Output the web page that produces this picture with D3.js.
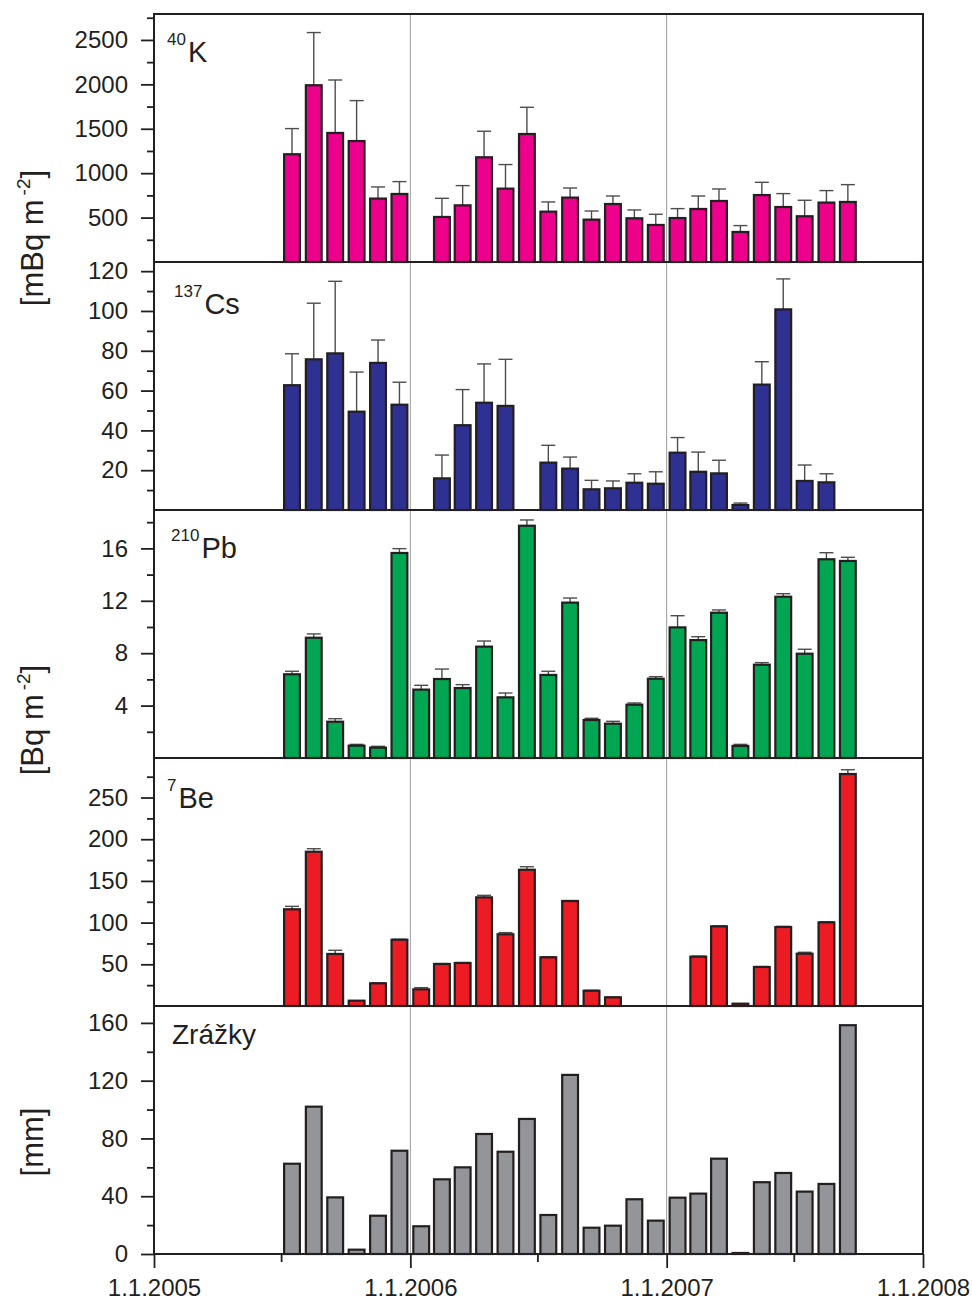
<!DOCTYPE html>
<html>
<head>
<meta charset="utf-8">
<script src="https://cdn.jsdelivr.net/npm/d3@7"></script>
<style>
  body { margin: 0; background: #fff; }
  svg { display: block; }
  text { font-family: "Liberation Sans", Arial, Helvetica, sans-serif; }
</style>
</head>
<body>
<svg id="chart" width="972" height="1301"></svg>
<script>
// Monthly sampling periods
const months = [
  "2005-07","2005-08","2005-09","2005-10","2005-11","2005-12",
  "2006-01","2006-02","2006-03","2006-04","2006-05","2006-06",
  "2006-07","2006-08","2006-09","2006-10","2006-11","2006-12",
  "2007-01","2007-02","2007-03","2007-04","2007-05","2007-06",
  "2007-07","2007-08","2007-09"
];

// 40K deposition [mBq m-2] and its uncertainty
const k40 = [1213,1990,1453,1362,714,766, null,507,638,1179,826,1441,
             567,725,477,653,492,417, 495,597,687,338,754,619, 515,669,676];
const k40Err = [289,593,596,455,131,139, null,210,222,293,271,301,
                109,108,97,90,94,120, 106,146,135,72,143,151, 180,135,195];

// 137Cs deposition [mBq m-2]
const cs137 = [62.7,75.7,78.7,49.4,73.9,52.9, null,15.9,42.6,53.9,52.3,null,
               23.8,20.8,10.4,10.9,13.7,13.2, 28.8,19.2,18.4,2.5,63.0,100.8, 14.6,13.9,null];
const cs137Err = [15.8,28.2,36.2,19.9,11.5,11.3, null,11.7,17.9,19.5,23.4,null,
                  8.7,5.8,4.5,3.7,4.5,6.0, 7.6,9.9,6.6,1.0,11.5,15.3, 8.0,4.3,null];

// 210Pb deposition [Bq m-2]
const pb210 = [6.39,9.18,2.77,0.94,0.79,15.65, 5.22,6.03,5.34,8.5,4.63,17.73,
               6.34,11.86,2.9,2.62,4.07,6.05, 9.97,9.0,11.09,0.92,7.12,12.31, 7.96,15.17,15.04];
const pb210Err = [0.23,0.29,0.23,0.1,0.1,0.33, 0.33,0.76,0.26,0.43,0.33,0.44,
                  0.28,0.35,0.13,0.18,0.13,0.16, 0.89,0.26,0.21,0.12,0.16,0.23, 0.34,0.5,0.28];

// 7Be deposition [Bq m-2]
const be7 = [116,185,62.4,6.4,27.2,79.5, 20,50.4,51.6,130.3,86,163.4,
             58.4,125.9,18.3,10.4,null,null, null,59.2,95.5,2.8,46.8,94.7, 62.7,100.3,278.2];
const be7Err = [3.5,3.6,4.4,0,0.5,0.5, 2,0.5,0.5,2.4,2,3.6,
                0.5,0.5,0.5,0.3,null,null, null,0.5,0.5,0,0.5,0.8, 1.7,0.8,5.1];

// Monthly precipitation [mm]
const precip = [62.5,102,39.2,3.0,26.5,71.5, 19.2,51.7,60,83.1,70.8,93.5,
                27,124,18.2,19.6,37.9,23.1, 39,41.8,66,0.7,49.7,56.1, 43.2,48.5,158.4];

// Axis ticks per panel
const kTicks = [500,1000,1500,2000,2500];
const kMinor = [250,750,1250,1750,2250,2750];
const csTicks = [20,40,60,80,100,120];
const csMinor = [10,30,50,70,90,110];
const pbTicks = [4,8,12,16];
const pbMinor = [2,6,10,14,18];
const beTicks = [50,100,150,200,250];
const beMinor = [25,75,125,175,225,275];
const prTicks = [0,40,80,120,160];
const prMinor = [20,60,100,140];
const yearTicks = ["2005-01","2006-01","2007-01","2008-01"];
const halfYearTicks = ["2005-07","2006-07","2007-07"];

const parseMonth = d3.timeParse("%Y-%m");

const panels = [
  { sup: "40", name: "K", values: k40, errors: k40Err, color: "#ec008c", max: 2792, major: kTicks, minor: kMinor },
  { sup: "137", name: "Cs", values: cs137, errors: cs137Err, color: "#2e3192", max: 124.6, major: csTicks, minor: csMinor },
  { sup: "210", name: "Pb", values: pb210, errors: pb210Err, color: "#00a651", max: 18.93, major: pbTicks, minor: pbMinor },
  { sup: "7", name: "Be", values: be7, errors: be7Err, color: "#ed1c24", max: 297.4, major: beTicks, minor: beMinor },
  { sup: "", name: "Zrážky", values: precip, errors: null, color: "#939598", max: 171.7, major: prTicks, minor: prMinor }
];

// Layout
const left = 154, right = 923, top0 = 14, panelH = 248;
const bottomAll = top0 + panelH * panels.length;
const ink = "#231f20";

const svg = d3.select("#chart");
const x = d3.scaleTime()
  .domain([parseMonth("2005-01"), parseMonth("2008-01")])
  .range([left, right]);

// Year gridlines through all panels
const gGrid = svg.append("g");
["2006-01","2007-01"].forEach(m => {
  const xx = x(parseMonth(m));
  gGrid.append("line")
    .attr("x1", xx).attr("x2", xx)
    .attr("y1", top0).attr("y2", bottomAll)
    .attr("stroke", "#9a9a9a").attr("stroke-width", 1);
});

const labelX = [167, 174, 171, 167, 172];
const labelY = [62, 314, 558, 808, 1044];

panels.forEach((p, i) => {
  const y0 = top0 + i * panelH, y1 = y0 + panelH;
  const y = d3.scaleLinear().domain([0, p.max]).range([y1, y0]);
  const g = svg.append("g");

  const data = months.map((m, j) => {
    const d0 = parseMonth(m), d1 = d3.timeMonth.offset(d0, 1);
    return { c: (x(d0) + x(d1)) / 2, v: p.values[j], e: p.errors ? p.errors[j] : null };
  }).filter(d => d.v != null);

  // error bars (upper only)
  const gErr = g.append("g").attr("stroke", "#4d4d4d").attr("stroke-width", 1.4);
  data.filter(d => d.e != null && d.e > 0).forEach(d => {
    gErr.append("line").attr("x1", d.c).attr("x2", d.c)
      .attr("y1", y(d.v)).attr("y2", y(d.v + d.e));
    gErr.append("line").attr("x1", d.c - 7).attr("x2", d.c + 7)
      .attr("y1", y(d.v + d.e)).attr("y2", y(d.v + d.e));
  });

  // bars
  g.append("g").selectAll("rect").data(data).join("rect")
    .attr("x", d => d.c - 7.9)
    .attr("width", 15.8)
    .attr("y", d => y(d.v))
    .attr("height", d => y(0) - y(d.v))
    .attr("fill", p.color)
    .attr("stroke", ink)
    .attr("stroke-width", 2.2);

  // left axis: minor and major ticks
  const minorAxis = g.append("g").attr("transform", `translate(${left},0)`)
    .call(d3.axisLeft(y).tickValues(p.minor).tickSize(7).tickFormat(""));
  const majorAxis = g.append("g").attr("transform", `translate(${left},0)`)
    .call(d3.axisLeft(y).tickValues(p.major).tickSize(13).tickPadding(13)
      .tickFormat(d3.format("d")));
  [minorAxis, majorAxis].forEach(a => {
    a.select(".domain").remove();
    a.attr("color", ink);
    a.selectAll("line").attr("stroke-width", 1.8);
  });
  majorAxis.selectAll("text").attr("font-size", 24).attr("fill", ink)
    .style("font-family", '"Liberation Sans", Arial, sans-serif');

  // panel label
  const t = svg.append("text").attr("x", labelX[i]).attr("y", labelY[i]).attr("fill", ink);
  if (p.sup) {
    t.append("tspan").attr("font-size", 17).attr("dy", -17).text(p.sup);
    t.append("tspan").attr("font-size", 29).attr("dy", 17).attr("dx", 2).text(p.name);
  } else {
    t.append("tspan").attr("font-size", 28).text(p.name);
  }
});

// frame and panel separators
svg.append("rect")
  .attr("x", left).attr("y", top0)
  .attr("width", right - left).attr("height", bottomAll - top0)
  .attr("fill", "none").attr("stroke", ink).attr("stroke-width", 2);
for (let i = 1; i < panels.length; i++) {
  svg.append("line")
    .attr("x1", left).attr("x2", right)
    .attr("y1", top0 + i * panelH).attr("y2", top0 + i * panelH)
    .attr("stroke", ink).attr("stroke-width", 2);
}

// bottom time axis
const xMinor = svg.append("g").attr("transform", `translate(0,${bottomAll})`)
  .call(d3.axisBottom(x).tickValues(halfYearTicks.map(parseMonth)).tickSize(8).tickFormat(""));
const xMajor = svg.append("g").attr("transform", `translate(0,${bottomAll})`)
  .call(d3.axisBottom(x).tickValues(yearTicks.map(parseMonth)).tickSize(14).tickPadding(11)
    .tickFormat(d => `1.1.${d.getFullYear()}`));
[xMinor, xMajor].forEach(a => {
  a.select(".domain").remove();
  a.attr("color", ink);
  a.selectAll("line").attr("stroke-width", 1.8);
});
xMajor.selectAll("text").attr("font-size", 24).attr("fill", ink)
  .style("font-family", '"Liberation Sans", Arial, sans-serif');

// y-axis titles
function yTitle(cy, main, sup) {
  const t = svg.append("text")
    .attr("transform", `translate(43,${cy}) rotate(-90)`)
    .attr("text-anchor", "middle")
    .attr("font-size", 31)
    .attr("fill", ink);
  t.append("tspan").text(main);
  if (sup) {
    t.append("tspan").attr("font-size", 19).attr("dy", -13).attr("dx", 4).text(sup);
    t.append("tspan").attr("dy", 13).text("]");
  }
  return t;
}
yTitle(238, "[mBq m", "-2");
yTitle(720, "[Bq m", "-2");
yTitle(1142, "[mm]", null);
</script>
</body>
</html>
